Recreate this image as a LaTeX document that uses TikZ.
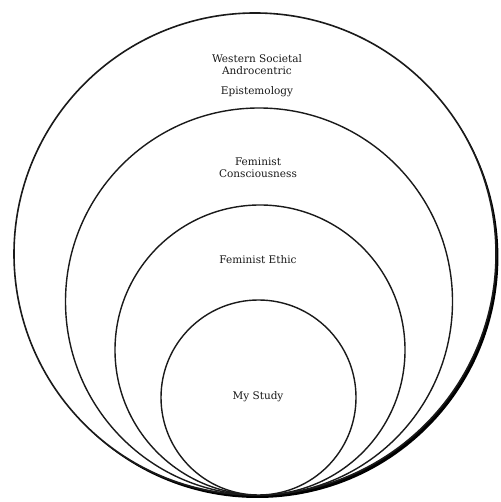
\documentclass[tikz,border=0pt]{standalone}
\usepackage{fontspec}
\setmainfont{DejaVu Serif}
\usetikzlibrary{shadows}
\definecolor{ink}{HTML}{1A1A1A}
\tikzset{
  ring/.style={circle, draw=ink, line width=1.4pt, fill=white, inner sep=0pt},
  outerring/.style={ring, line width=1.6pt, drop shadow={shadow xshift=2.4pt, shadow yshift=-3pt, fill=black, opacity=1}},
  label/.style={font=\fontsize{10.5}{13}\selectfont, text=ink, align=center, inner sep=0pt}
}

\begin{document}
\begin{tikzpicture}[x=1pt,y=1pt]
\useasboundingbox (0,0) rectangle (500,502);

% nested circles, all touching at the bottom
\node[outerring, minimum size=482pt] (epist) at (255,248) {};
\node[ring, minimum size=387pt] (consc) at (259,200.5) {};
\node[ring, minimum size=290pt] (ethic) at (260,152) {};
\node[ring, minimum size=195pt] (study) at (258.5,104.5) {};

\node[label] (epistlbl) at (257,437) {Western Societal\\[-1pt]Androcentric};
\node[label] (epistlbl2) at (257,410) {Epistemology};
\node[label] (consclbl) at (258,334) {Feminist\\[-1pt]Consciousness};
\node[label] (ethiclbl) at (258,242) {Feminist Ethic};
\node[label] (studylbl) at (258,105) {My Study};

\end{tikzpicture}
\end{document}
